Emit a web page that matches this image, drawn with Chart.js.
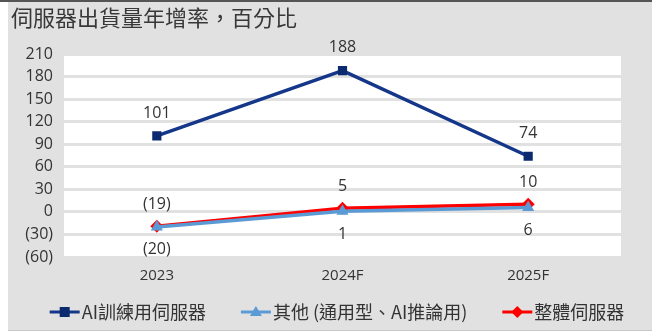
<!DOCTYPE html>
<html><head><meta charset="utf-8">
<script src="https://cdn.jsdelivr.net/npm/chart.js@4.4.1/dist/chart.umd.min.js"></script>
<style>html,body{margin:0;padding:0;background:#fff}#w{width:659px;height:332px}</style>
</head><body><div id="w"><canvas id="c" width="659" height="332"></canvas></div>
<script>
const title = '伺服器出貨量年增率，百分比';
const categories = ['2023', '2024F', '2025F'];
const aiTraining = [101, 188, 74];
const others = [-20, 1, 6];
const total = [-19, 5, 10];
const seriesNames = ['AI訓練用伺服器', '其他 (通用型、AI推論用)', '整體伺服器'];
const yMin = -60, yMax = 210, yStep = 30;

const FONT = "'Open Sans','Noto Sans CJK TC',sans-serif";
const CJK = "'Noto Sans CJK TC',sans-serif";
const C_AI = '#15378a', C_AI_PT = '#0c2a6e';
const C_OT = '#5b9bd5';
const C_TO = '#ff0000';
const shapes = ['rect', 'triangle', 'diamond'];

function fmt(v){ return v < 0 ? '(' + Math.abs(v) + ')' : String(v); }

function drawIcon(g, x, y, color, ptColor, shape){
  g.save();
  g.strokeStyle = color; g.lineWidth = 3;
  g.beginPath(); g.moveTo(x, y); g.lineTo(x + 30, y); g.stroke();
  g.fillStyle = ptColor;
  const cx = x + 15;
  g.beginPath();
  if (shape === 'rect') { g.rect(cx - 5, y - 5, 10, 10); }
  else if (shape === 'triangle') { g.moveTo(cx, y - 6); g.lineTo(cx + 6, y + 4); g.lineTo(cx - 6, y + 4); g.closePath(); }
  else { g.moveTo(cx, y - 6); g.lineTo(cx + 6, y); g.lineTo(cx, y + 6); g.lineTo(cx - 6, y); g.closePath(); }
  g.fill();
  g.restore();
}

const bgPlugin = {
  id: 'bg',
  beforeDraw(chart){
    const ctx = chart.ctx, a = chart.chartArea;
    ctx.save();
    ctx.fillStyle = '#ffffff'; ctx.fillRect(0,0,chart.width,chart.height);
    ctx.fillStyle = '#e1e1e1'; ctx.fillRect(8,2,644,328);
    ctx.fillStyle = '#c8c8c8'; ctx.fillRect(8,330,644,1);
    ctx.fillStyle = '#555555'; ctx.fillRect(0,0,652,2);
    ctx.fillStyle = '#ffffff'; ctx.fillRect(a.left, a.top, a.right - a.left, a.bottom - a.top);
    ctx.fillStyle = '#383838';
    ctx.font = "22px " + CJK;
    ctx.textBaseline = 'middle'; ctx.textAlign = 'left';
    ctx.fillText(title, 11, 18);
    ctx.restore();
  }
};
const labelPlugin = {
  id: 'vlabels',
  afterDatasetsDraw(chart){
    const ctx = chart.ctx;
    ctx.save();
    ctx.font = '16px ' + FONT; ctx.fillStyle = '#333333';
    ctx.textAlign = 'center'; ctx.textBaseline = 'middle';
    const offs = [-23, 23, -22];
    chart.data.datasets.forEach((ds, i) => {
      chart.getDatasetMeta(i).data.forEach((pt, j) => {
        ctx.fillText(fmt(ds.data[j]), pt.x, pt.y + offs[i]);
      });
    });
    ctx.restore();
  }
};
const legendPlugin = {
  id: 'mylegend',
  afterDraw(chart){
    const ctx = chart.ctx;
    ctx.save();
    ctx.font = '18px ' + CJK; ctx.fillStyle = '#333333';
    ctx.textAlign = 'left'; ctx.textBaseline = 'middle';
    const ds = chart.data.datasets;
    const iconW = 30, gapI = 2, gapItem = 35;
    const widths = ds.map(d => ctx.measureText(d.label).width);
    const totalW = widths.reduce((s, w) => s + iconW + gapI + w, 0) + gapItem * (ds.length - 1);
    let x = 337 - totalW / 2;
    const y = 312;
    ds.forEach((d, i) => {
      drawIcon(ctx, x, y, d.borderColor, d.pointBackgroundColor, shapes[i]);
      x += iconW + gapI;
      ctx.fillStyle = '#333333';
      ctx.fillText(d.label, x, y);
      x += widths[i] + gapItem;
    });
    ctx.restore();
  }
};

new Chart(document.getElementById('c'), {
  type: 'line',
  data: {
    labels: categories,
    datasets: [
      {label: seriesNames[0], data: aiTraining, borderColor: C_AI, backgroundColor: C_AI_PT, borderWidth: 3.5,
       pointStyle: 'rect', pointRadius: 6.5, pointHoverRadius: 6.5, pointBackgroundColor: C_AI_PT, pointBorderWidth: 0},
      {label: seriesNames[1], data: others, borderColor: C_OT, backgroundColor: C_OT, borderWidth: 3.5,
       pointStyle: 'triangle', pointRadius: 7, pointHoverRadius: 7, pointBackgroundColor: C_OT, pointBorderWidth: 0},
      {label: seriesNames[2], data: total, borderColor: C_TO, backgroundColor: C_TO, borderWidth: 3.5,
       pointStyle: 'rectRot', pointRadius: 6.5, pointHoverRadius: 6.5, pointBackgroundColor: C_TO, pointBorderWidth: 0}
    ]
  },
  options: {
    responsive: false, animation: false,
    layout: {padding: {left: 8, right: 38, top: 54, bottom: 35}},
    plugins: {
      tooltip: {enabled: false},
      title: {display: false},
      legend: {display: false}
    },
    scales: {
      x: {
        offset: true,
        grid: {display: false, drawTicks: false},
        border: {display: false},
        ticks: {color: '#333333', font: {size: 15, family: FONT}, padding: 10},
        afterFit(s){ s.height = 40; }
      },
      y: {
        min: yMin, max: yMax,
        grid: {color: '#e1e1e1', lineWidth: 3, drawTicks: false},
        border: {display: false},
        ticks: {stepSize: yStep, color: '#333333', font: {size: 16, family: FONT}, padding: 11,
                callback: v => fmt(v)},
        afterFit(s){ s.width = 56; }
      }
    }
  },
  plugins: [bgPlugin, labelPlugin, legendPlugin]
});
</script></body></html>
